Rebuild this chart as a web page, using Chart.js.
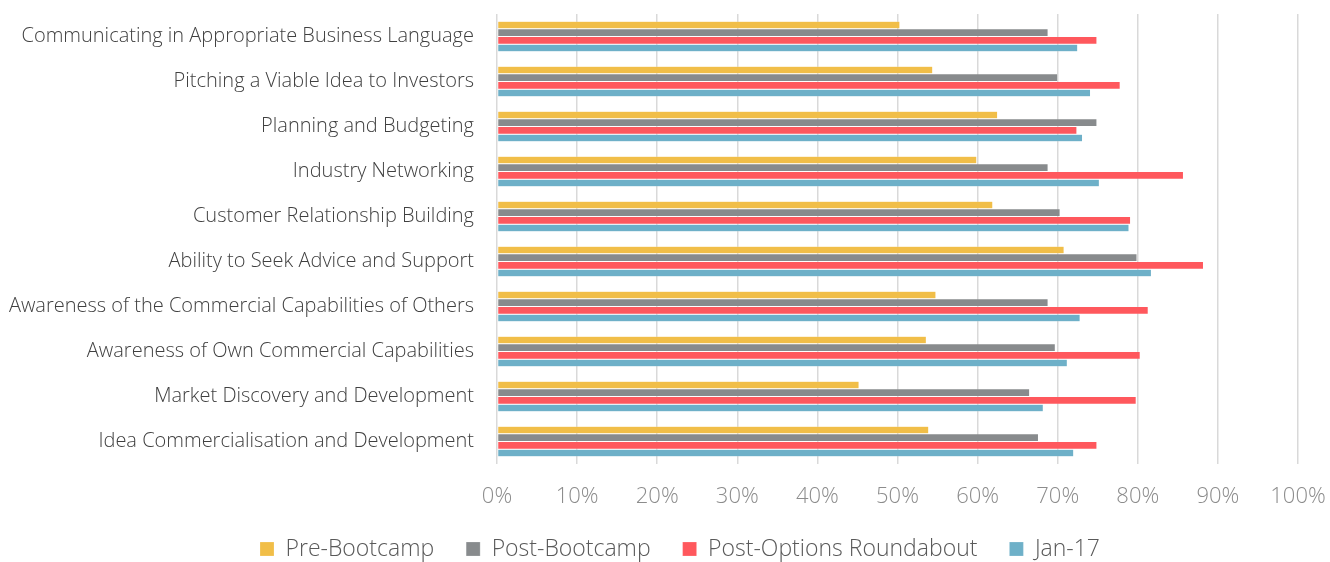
<!DOCTYPE html>
<html>
<head>
<meta charset="utf-8">
<script src="https://cdn.jsdelivr.net/npm/chart.js@4"></script>
<style>
  body { margin: 0; background: #fff; }
  canvas { display: block; }
</style>
</head>
<body>
<canvas id="chart" width="1330" height="562"></canvas>
<script>
// categories, top to bottom
const categories = [
    'Communicating in Appropriate Business Language',
    'Pitching a Viable Idea to Investors',
    'Planning and Budgeting',
    'Industry Networking',
    'Customer Relationship Building',
    'Ability to Seek Advice and Support',
    'Awareness of the Commercial Capabilities of Others',
    'Awareness of Own Commercial Capabilities',
    'Market Discovery and Development',
    'Idea Commercialisation and Development'
];

// series values (%)
const preBootcamp = [50.3, 54.4, 62.5, 59.9, 61.9, 70.8, 54.8, 53.6, 45.2, 53.9];
const postBootcamp = [68.8, 70.0, 74.9, 68.8, 70.3, 79.9, 68.8, 69.7, 66.5, 67.6];
const postOptions = [74.9, 77.8, 72.4, 85.7, 79.1, 88.2, 81.3, 80.3, 79.8, 74.9];
const jan17 = [72.5, 74.1, 73.1, 75.2, 78.9, 81.7, 72.8, 71.2, 68.2, 72.0];

const seriesNames = ['Pre-Bootcamp', 'Post-Bootcamp', 'Post-Options Roundabout', 'Jan-17'];
const colors = ['#F1BE48', '#888B8D', '#FF585D', '#6EB0C8'];

const FONT = "'Open Sans', 'Segoe UI', sans-serif";

function makeSet(i, values) {
    return {
        label: seriesNames[i],
        data: values,
        backgroundColor: colors[i],
        borderColor: 'rgba(255,255,255,0.4)',
        borderWidth: 0.5,
        borderSkipped: false,
        barPercentage: 1,
        categoryPercentage: 0.68
    };
}

// nudge the legend to the right, like the original
const legendShift = {
    id: 'legendShift',
    afterLayout(chart) {
        chart.legend.left += 31;
        chart.legend.right += 31;
    }
};

const chart = new Chart(document.querySelector('#chart'), {
    type: 'bar',
    data: {
        labels: categories,
        datasets: [
            makeSet(0, preBootcamp),
            makeSet(1, postBootcamp),
            makeSet(2, postOptions),
            makeSet(3, jan17)
        ]
    },
    options: {
        indexAxis: 'y',
        responsive: false,
        animation: false,
        layout: {
            padding: { top: 14, right: 32, bottom: -8.5, left: 0 }
        },
        plugins: {
            legend: {
                position: 'bottom',
                labels: {
                    boxWidth: 14,
                    boxHeight: 14,
                    padding: 32,
                    color: '#595959',
                    font: { family: FONT, size: 23, weight: '300' }
                }
            },
            tooltip: { enabled: false }
        },
        scales: {
            x: {
                min: 0,
                max: 100,
                grid: {
                    color: '#d9d9d9',
                    lineWidth: 1.5,
                    drawTicks: false
                },
                border: { display: false },
                ticks: {
                    stepSize: 10,
                    padding: 20,
                    color: '#8c8c8c',
                    font: { family: FONT, size: 22, weight: '300' },
                    callback: v => v + '%'
                },
                afterFit: s => {
                    s.height = 41.5;
                    s.paddingLeft = 0;
                    s.paddingRight = 0;
                }
            },
            y: {
                grid: { display: false, drawTicks: false },
                border: { display: false },
                ticks: {
                    padding: 23,
                    color: '#404040',
                    font: { family: FONT, size: 20, weight: '300' }
                },
                afterFit: s => {
                    s.width = 497;
                    s.paddingTop = 0;
                    s.paddingBottom = 0;
                }
            }
        }
    },
    plugins: [legendShift]
});
</script>
</body>
</html>
